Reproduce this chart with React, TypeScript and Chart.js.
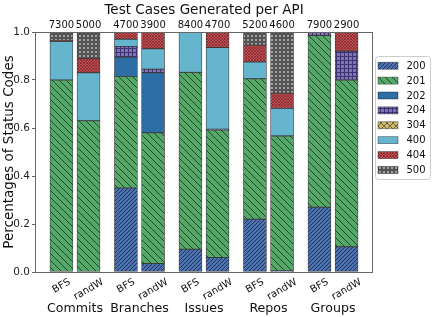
import React, { useEffect, useRef } from "react";
import { Chart, registerables } from "chart.js";

Chart.register(...registerables);

const groups = ["Commits", "Branches", "Issues", "Repos", "Groups"];
const methods = ["BFS", "randW"];
const totals = [7300, 5000, 4700, 3900, 8400, 4700, 5200, 4600, 7900, 2900];
const codes = ["200", "201", "202", "204", "304", "400", "404", "500"];
// bar order: Commits BFS, Commits randW, Branches BFS, Branches randW, ...
const s200 = [0, 0, 0.35, 0.035, 0.095, 0.06, 0.22, 0.005, 0.27, 0.105];
const s201 = [0.8, 0.63, 0.465, 0.545, 0.737, 0.532, 0.585, 0.562, 0.715, 0.695];
const s202 = [0, 0, 0.08, 0.25, 0, 0, 0, 0, 0, 0];
const s204 = [0, 0, 0.045, 0.015, 0, 0.003, 0, 0, 0.015, 0.12];
const s304 = [0, 0, 0, 0, 0, 0, 0, 0, 0, 0];
const s400 = [0.16, 0.2, 0.03, 0.085, 0.168, 0.34, 0.07, 0.115, 0, 0];
const s404 = [0.005, 0.06, 0.03, 0.07, 0, 0.065, 0.07, 0.063, 0, 0.08];
const s500 = [0.035, 0.11, 0, 0, 0, 0, 0.055, 0.255, 0, 0];
const yTicks = [0, 0.2, 0.4, 0.6, 0.8, 1.0];

const series = [s200, s201, s202, s204, s304, s400, s404, s500];

const FONT = '"DejaVu Sans", sans-serif';
const OFFSET = 0.21;

function barX(i: number) {
  const g = Math.floor(i / 2);
  return g + (i % 2 === 0 ? -OFFSET : OFFSET);
}

function tile(size: number, bg: string, draw?: (g: CanvasRenderingContext2D, s: number) => void) {
  const c = document.createElement("canvas");
  c.width = size;
  c.height = size;
  const g = c.getContext("2d")!;
  g.fillStyle = bg;
  g.fillRect(0, 0, size, size);
  if (draw) draw(g, size);
  return c;
}

function makeFills(ctx: CanvasRenderingContext2D) {
  const fwd = (col: string, lw: number) => (g: CanvasRenderingContext2D, s: number) => {
    g.strokeStyle = col;
    g.lineWidth = lw;
    for (const k of [-s, 0, s]) {
      g.beginPath();
      g.moveTo(k, s);
      g.lineTo(k + s, 0);
      g.stroke();
    }
  };
  const back = (col: string, lw: number) => (g: CanvasRenderingContext2D, s: number) => {
    g.strokeStyle = col;
    g.lineWidth = lw;
    for (const k of [-s, 0, s]) {
      g.beginPath();
      g.moveTo(k, 0);
      g.lineTo(k + s, s);
      g.stroke();
    }
  };
  const p = (c: HTMLCanvasElement) => ctx.createPattern(c, "repeat") as CanvasPattern;
  return [
    p(tile(4, "#4c72b0", fwd("#1c2c55", 0.9))),
    p(tile(7, "#55a868", back("#1e3f27", 0.9))),
    "#2c6ea5",
    p(
      tile(4, "#8172b2", (g, s) => {
        g.fillStyle = "#3e3373";
        g.fillRect(0, 0, s, 1);
        g.fillRect(0, 0, 1, s);
      })
    ),
    p(
      tile(6, "#ccb974", (g, s) => {
        fwd("#5a4f22", 0.8)(g, s);
        back("#5a4f22", 0.8)(g, s);
      })
    ),
    "#64b5cd",
    p(
      tile(3, "#c44e52", (g, s) => {
        fwd("#6a2326", 0.6)(g, s);
        back("#6a2326", 0.6)(g, s);
      })
    ),
    p(
      tile(4, "#a2a2a2", (g, s) => {
        g.strokeStyle = "#222";
        g.lineWidth = 1;
        g.beginPath();
        g.arc(s / 2, s / 2, 1.3, 0, Math.PI * 2);
        g.stroke();
      })
    ),
  ];
}

export default function App() {
  const ref = useRef<HTMLCanvasElement | null>(null);

  useEffect(() => {
    document.body.style.margin = "0";
    const canvas = ref.current!;
    const ctx0 = canvas.getContext("2d")!;
    const fills = makeFills(ctx0);

    const datasets = codes.map((code, k) => ({
      label: code,
      data: series[k]
        .map((v, i) => ({ x: barX(i), y: v }))
        .filter((d) => d.y > 0),
      backgroundColor: fills[k] as any,
      borderColor: "rgba(35,35,35,0.85)",
      borderWidth: 0.8,
      borderSkipped: false as any,
      barThickness: 23,
      stack: "s",
    }));

    const overlay = {
      id: "overlay",
      afterDraw(chart: any) {
        const ctx: CanvasRenderingContext2D = chart.ctx;
        const a = chart.chartArea;
        const xs = chart.scales.x;
        ctx.save();
        // frame
        ctx.strokeStyle = "#666";
        ctx.lineWidth = 1;
        ctx.strokeRect(Math.round(a.left) + 0.5, Math.round(a.top) + 0.5, Math.round(a.right - a.left) - 1, Math.round(a.bottom - a.top));
        // title
        ctx.fillStyle = "#111";
        ctx.font = `13.5px ${FONT}`;
        ctx.textAlign = "center";
        ctx.textBaseline = "alphabetic";
        ctx.fillText("Test Cases Generated per API", (a.left + a.right) / 2, 13.5);
        // totals
        ctx.font = `10px ${FONT}`;
        totals.forEach((t, i) => {
          ctx.fillText(String(t), xs.getPixelForValue(barX(i)), 28);
        });
        // rotated method labels
        const th = (30 * Math.PI) / 180;
        ctx.font = `10px ${FONT}`;
        ctx.textBaseline = "middle";
        totals.forEach((_, i) => {
          const lab = methods[i % 2];
          const w = ctx.measureText(lab).width;
          const h = 10;
          const yc = 277 + (w * Math.sin(th) + h * Math.cos(th)) / 2;
          ctx.save();
          ctx.translate(xs.getPixelForValue(barX(i)), yc);
          ctx.rotate(-th);
          ctx.fillText(lab, 0, 0);
          ctx.restore();
        });
        // group labels
        ctx.font = `12.6px ${FONT}`;
        ctx.textBaseline = "alphabetic";
        groups.forEach((g, gi) => {
          ctx.fillText(g, xs.getPixelForValue(gi), 312);
        });
        // legend
        const lx = 375.5, ly = 56.5, lw = 55, lh = 123;
        ctx.fillStyle = "#fff";
        ctx.strokeStyle = "#cccccc";
        ctx.lineWidth = 1;
        ctx.beginPath();
        (ctx as any).roundRect(lx, ly, lw, lh, 3);
        ctx.fill();
        ctx.stroke();
        codes.forEach((c, k) => {
          const cy = 65.7 + k * 14.9;
          ctx.fillStyle = fills[k] as any;
          ctx.fillRect(378, cy - 3.5, 20, 7);
          ctx.strokeStyle = "rgba(35,35,35,0.7)";
          ctx.lineWidth = 0.6;
          ctx.strokeRect(378, cy - 3.5, 20, 7);
          ctx.fillStyle = "#111";
          ctx.font = `10px ${FONT}`;
          ctx.textAlign = "left";
          ctx.textBaseline = "middle";
          ctx.fillText(c, 406.5, cy + 0.5);
        });
        ctx.restore();
      },
    };

    const chart = new Chart(canvas, {
      type: "bar",
      data: { datasets: datasets as any },
      options: {
        animation: false,
        responsive: true,
        maintainAspectRatio: false,
        devicePixelRatio: 1,
        layout: { padding: { top: 32, right: 59, left: 0, bottom: 0 } },
        plugins: {
          legend: { display: false },
          tooltip: { enabled: false },
          title: { display: false },
        },
        scales: {
          x: {
            type: "linear",
            min: -0.62,
            max: 4.62,
            stacked: true,
            offset: false,
            ticks: { display: false },
            grid: { display: false },
            border: { display: false },
            afterFit: (s: any) => {
              s.height = 45;
            },
          },
          y: {
            stacked: true,
            min: 0,
            max: 1,
            afterBuildTicks: (s: any) => {
              s.ticks = yTicks.map((v) => ({ value: v }));
            },
            ticks: {
              callback: (v: any) => Number(v).toFixed(1),
              font: { family: FONT, size: 10.5 },
              color: "#222",
              padding: 2,
            },
            grid: { drawOnChartArea: false, tickLength: 3, color: "#666" },
            border: { display: false },
            title: {
              display: true,
              text: "Percentages of Status Codes",
              font: { family: FONT, size: 13.5 },
              color: "#111",
              padding: { top: 1, bottom: 0 },
            },
            afterFit: (s: any) => {
              s.width = 35;
            },
          },
        },
      },
      plugins: [overlay],
    });
    return () => chart.destroy();
  }, []);

  return (
    <div style={{ width: 432, height: 317, position: "relative" }}>
      <canvas ref={ref} />
    </div>
  );
}
